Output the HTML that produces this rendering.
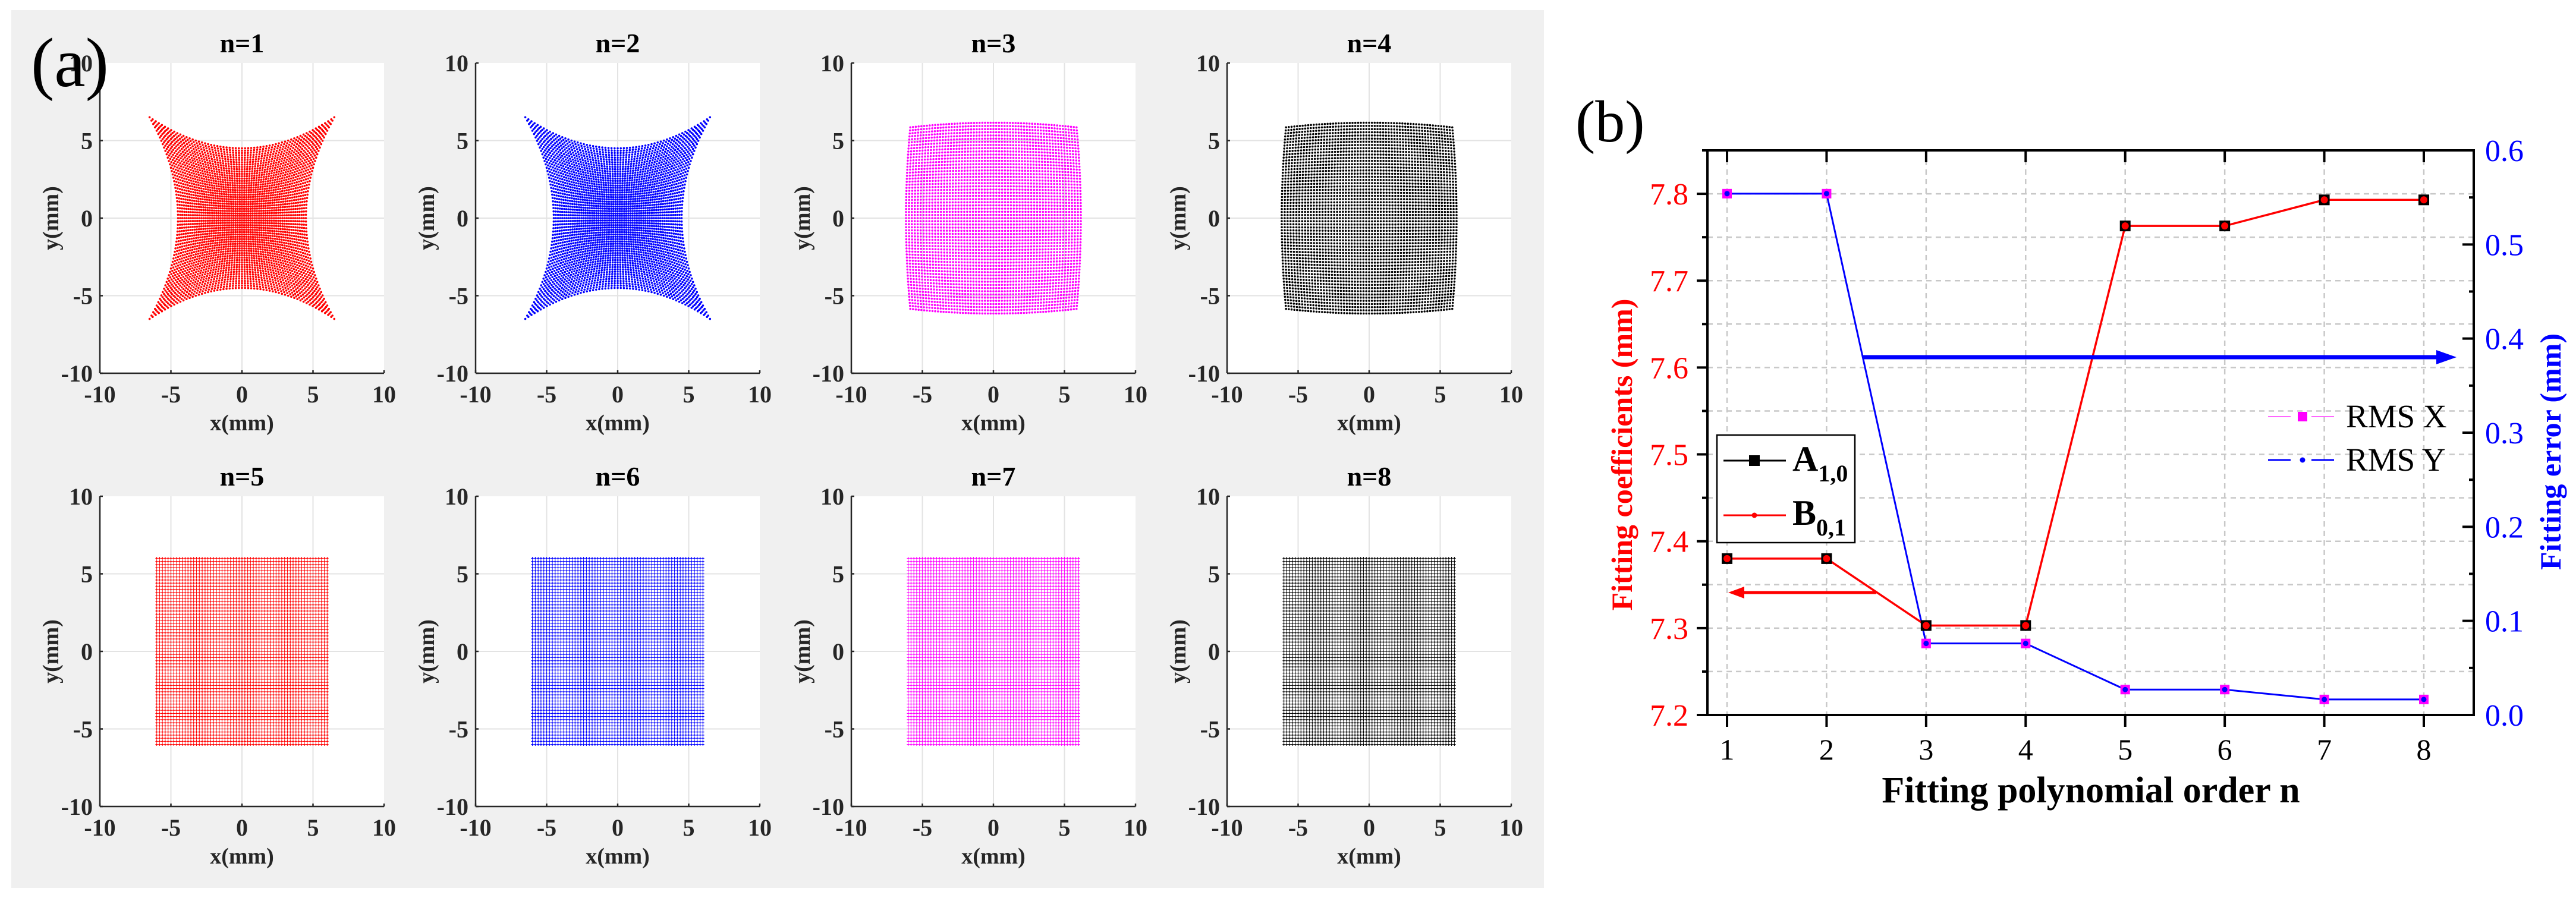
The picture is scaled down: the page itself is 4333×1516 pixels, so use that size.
<!DOCTYPE html>
<html><head><meta charset="utf-8">
<style>
html,body{margin:0;padding:0;background:#fff;}
svg{display:block;}
.t{font-family:"Liberation Serif",serif;}
</style></head>
<body>
<svg id="s" xmlns="http://www.w3.org/2000/svg" width="4333" height="1516" viewBox="0 0 4333 1516">
<rect x="0" y="0" width="4333" height="1516" fill="#fff"/>
<rect x="19" y="17" width="2578" height="1477" fill="#f0f0f0"/>
<g id="pa"></g>
<g id="pb"></g>
</svg>
<script>
var NS="http://www.w3.org/2000/svg";
function el(p,tag,attrs,txt){var e=document.createElementNS(NS,tag);for(var k in attrs)e.setAttribute(k,attrs[k]);if(txt!==undefined)e.textContent=txt;p.appendChild(e);return e;}
var pa=document.getElementById('pa'), pb=document.getElementById('pb');
var PX=[168,800,1432,2064], PY=[106,835], W=478, H=522;
var cols=['#ff0000','#0000ff','#ff00ff','#000000'];
for(var n=1;n<=8;n++){
  var ci=(n-1)%4, ri=n<=4?0:1, x0=PX[ci], y0=PY[ri];
  var g=el(pa,'g',{});
  el(g,'rect',{x:x0,y:y0,width:W,height:H,fill:'#fff'});
  function X(v){return x0+(v+10)/20*W;} function Y(v){return y0+(10-v)/20*H;}
  [-5,0,5].forEach(function(v){
    el(g,'line',{x1:X(v),y1:y0,x2:X(v),y2:y0+H,stroke:'#e3e3e3','stroke-width':2});
    el(g,'line',{x1:x0,y1:Y(v),x2:x0+W,y2:Y(v),stroke:'#e3e3e3','stroke-width':2});
  });
  var d='', N=61;
  for(var i=0;i<N;i++){for(var j=0;j<N;j++){
    var u=-1+2*i/(N-1), v=-1+2*j/(N-1), xx, yy;
    if(n<=2){xx=4.5*u+2.0*u*v*v; yy=4.5*v+2.0*v*u*u;}
    else if(n<=4){xx=6.15*u-0.3*u*v*v; yy=6.15*v-0.3*v*u*u;}
    else {xx=6*u; yy=6*v;}
    var px=X(xx), py=Y(yy);
    if(n<=4){d+='M'+px.toFixed(1)+' '+py.toFixed(1)+'h0';}
    else {d+='M'+(px-2.2).toFixed(1)+' '+py.toFixed(1)+'h4.4M'+px.toFixed(1)+' '+(py-2.4).toFixed(1)+'v4.8';}
  }}
  if(n<=4) el(g,'path',{d:d,stroke:cols[ci],'stroke-width':3.6,'stroke-linecap':'round',fill:'none'});
  else el(g,'path',{d:d,stroke:cols[ci],'stroke-width':1.1,fill:'none'});
  el(g,'line',{x1:x0,y1:y0,x2:x0,y2:y0+H,stroke:'#262626','stroke-width':2.5});
  el(g,'line',{x1:x0,y1:y0+H,x2:x0+W,y2:y0+H,stroke:'#262626','stroke-width':2.5});
  [-10,-5,0,5,10].forEach(function(v){
    el(g,'line',{x1:X(v),y1:y0+H,x2:X(v),y2:y0+H-5,stroke:'#262626','stroke-width':2.5});
    el(g,'line',{x1:x0,y1:Y(v),x2:x0+5,y2:Y(v),stroke:'#262626','stroke-width':2.5});
    el(g,'text',{x:X(v),y:y0+H+49,'text-anchor':'middle','class':'t','font-size':40,'font-weight':'bold',fill:'#262626'},String(v));
    el(g,'text',{x:x0-12,y:Y(v)+14,'text-anchor':'end','class':'t','font-size':40,'font-weight':'bold',fill:'#262626'},String(v));
  });
  el(g,'text',{x:x0+W/2,y:y0+H+96,'text-anchor':'middle','class':'t','font-size':38,'font-weight':'bold',fill:'#262626'},'x(mm)');
  el(g,'text',{x:0,y:0,'text-anchor':'middle','class':'t','font-size':38,'font-weight':'bold',fill:'#262626',transform:'translate('+(x0-70)+','+(y0+H/2)+') rotate(-90)'},'y(mm)');
  el(g,'text',{x:x0+W/2,y:y0-18,'text-anchor':'middle','class':'t','font-size':46,'font-weight':'bold',fill:'#000'},'n='+n);
}
el(pa,'text',{x:52,y:145,'class':'t','font-size':118,fill:'#000'},'(a)');

var L=2872,R=4161,T=253,B=1203;
function bx(n){return 2905+(n-1)*167.43;}
function yl(v){return B-(v-7.2)/0.65*950;}
function yr(v){return B-v/0.6*950;}
var i;
for(i=1;i<=8;i++) el(pb,'line',{x1:bx(i),y1:T,x2:bx(i),y2:B,stroke:'#c8c8c8','stroke-width':2.5,'stroke-dasharray':'9 7'});
for(i=1;i<=12;i++){var v=7.2+0.05*i; el(pb,'line',{x1:L,y1:yl(v),x2:R,y2:yl(v),stroke:'#c8c8c8','stroke-width':2.5,'stroke-dasharray':'9 7'});}
el(pb,'rect',{x:L,y:T,width:R-L,height:B-T,fill:'none',stroke:'#000','stroke-width':4});
for(i=1;i<=8;i++){
  el(pb,'line',{x1:bx(i),y1:B,x2:bx(i),y2:B+20,stroke:'#000','stroke-width':4});
  el(pb,'line',{x1:bx(i),y1:T,x2:bx(i),y2:T+20,stroke:'#000','stroke-width':4});
  el(pb,'text',{x:bx(i),y:B+75,'text-anchor':'middle','class':'t','font-size':50,fill:'#000'},String(i));
}
for(i=0;i<=13;i++){var v=7.2+0.05*i, y=yl(v), maj=(i%2==0);
  el(pb,'line',{x1:L,y1:y,x2:L-(maj?18:9),y2:y,stroke:'#000','stroke-width':4});
  if(maj&&i<=12) el(pb,'text',{x:2840,y:y+18,'text-anchor':'end','class':'t','font-size':52,fill:'#ff0000'},v.toFixed(1));
}
for(i=0;i<=12;i++){var v=0.05*i, y=yr(v), maj=(i%2==0);
  el(pb,'line',{x1:R,y1:y,x2:R-(maj?19:8),y2:y,stroke:'#000','stroke-width':4});
  if(maj) el(pb,'text',{x:4180,y:y+18,'class':'t','font-size':52,fill:'#0000ff'},v.toFixed(1));
}
var A=[7.38,7.38,7.303,7.303,7.763,7.763,7.793,7.793];
var Rm=[0.554,0.554,0.076,0.076,0.027,0.027,0.0165,0.0165];
var pA='',pR='';
for(i=0;i<8;i++){pA+=(i?'L':'M')+bx(i+1)+' '+yl(A[i]);pR+=(i?'L':'M')+bx(i+1)+' '+yr(Rm[i]);}
el(pb,'path',{d:pR,stroke:'#0000ff','stroke-width':3,fill:'none'});
for(i=0;i<8;i++){
  el(pb,'rect',{x:bx(i+1)-8,y:yr(Rm[i])-8,width:16,height:16,fill:'#ff00ff'});
  el(pb,'circle',{cx:bx(i+1),cy:yr(Rm[i]),r:4.5,fill:'#0000ff'});
}
el(pb,'path',{d:pA,stroke:'#ff0000','stroke-width':3.5,fill:'none'});
for(i=0;i<8;i++){
  el(pb,'rect',{x:bx(i+1)-9,y:yl(A[i])-9,width:18,height:18,fill:'#000'});
  el(pb,'circle',{cx:bx(i+1),cy:yl(A[i]),r:6,fill:'#ff0000'});
}
el(pb,'line',{x1:3134,y1:601,x2:4105,y2:601,stroke:'#0000ff','stroke-width':7});
el(pb,'path',{d:'M4132 601 L4098 589 L4098 613 Z',fill:'#0000ff'});
el(pb,'line',{x1:3156,y1:997,x2:2930,y2:997,stroke:'#ff0000','stroke-width':5});
el(pb,'path',{d:'M2907 997 L2934 987 L2934 1007 Z',fill:'#ff0000'});
el(pb,'rect',{x:2888,y:732,width:232,height:181,fill:'#fff',stroke:'#000','stroke-width':2.5});
el(pb,'line',{x1:2899,y1:775,x2:3004,y2:775,stroke:'#000','stroke-width':3});
el(pb,'rect',{x:2942,y:766,width:18,height:18,fill:'#000'});
el(pb,'line',{x1:2899,y1:867,x2:3004,y2:867,stroke:'#ff0000','stroke-width':3});
el(pb,'circle',{cx:2951,cy:867,r:4.5,fill:'#ff0000'});
var t1=el(pb,'text',{x:3015,y:792,'class':'t','font-size':60,'font-weight':'bold',fill:'#000'});
t1.innerHTML='A<tspan font-size="40" dy="18">1,0</tspan>';
var t2=el(pb,'text',{x:3015,y:883,'class':'t','font-size':60,'font-weight':'bold',fill:'#000'});
t2.innerHTML='B<tspan font-size="40" dy="18">0,1</tspan>';
el(pb,'line',{x1:3815,y1:701,x2:3926,y2:701,stroke:'#ff66ff','stroke-width':2,'stroke-dasharray':'38 35'});
el(pb,'rect',{x:3865,y:693,width:16,height:16,fill:'#ff00ff'});
el(pb,'line',{x1:3815,y1:774,x2:3926,y2:774,stroke:'#0000ff','stroke-width':3,'stroke-dasharray':'38 35'});
el(pb,'circle',{cx:3873,cy:774,r:4.5,fill:'#0000ff'});
el(pb,'text',{x:3946,y:719,'class':'t','font-size':55,fill:'#000'},'RMS X');
el(pb,'text',{x:3946,y:792,'class':'t','font-size':55,fill:'#000'},'RMS Y');
el(pb,'text',{x:3517,y:1350,'text-anchor':'middle','class':'t','font-size':62,'font-weight':'bold',fill:'#000'},'Fitting polynomial order n');
el(pb,'text',{x:0,y:0,'text-anchor':'middle','class':'t','font-size':50,'font-weight':'bold',fill:'#ff0000',transform:'translate(2745,765) rotate(-90)'},'Fitting coefficients (mm)');
el(pb,'text',{x:0,y:0,'text-anchor':'middle','class':'t','font-size':50,'font-weight':'bold',fill:'#0000ff',transform:'translate(4307,760) rotate(-90)'},'Fitting error (mm)');
el(pb,'text',{x:2650,y:238,'class':'t','font-size':100,fill:'#000'},'(b)');
</script>
</body></html>
